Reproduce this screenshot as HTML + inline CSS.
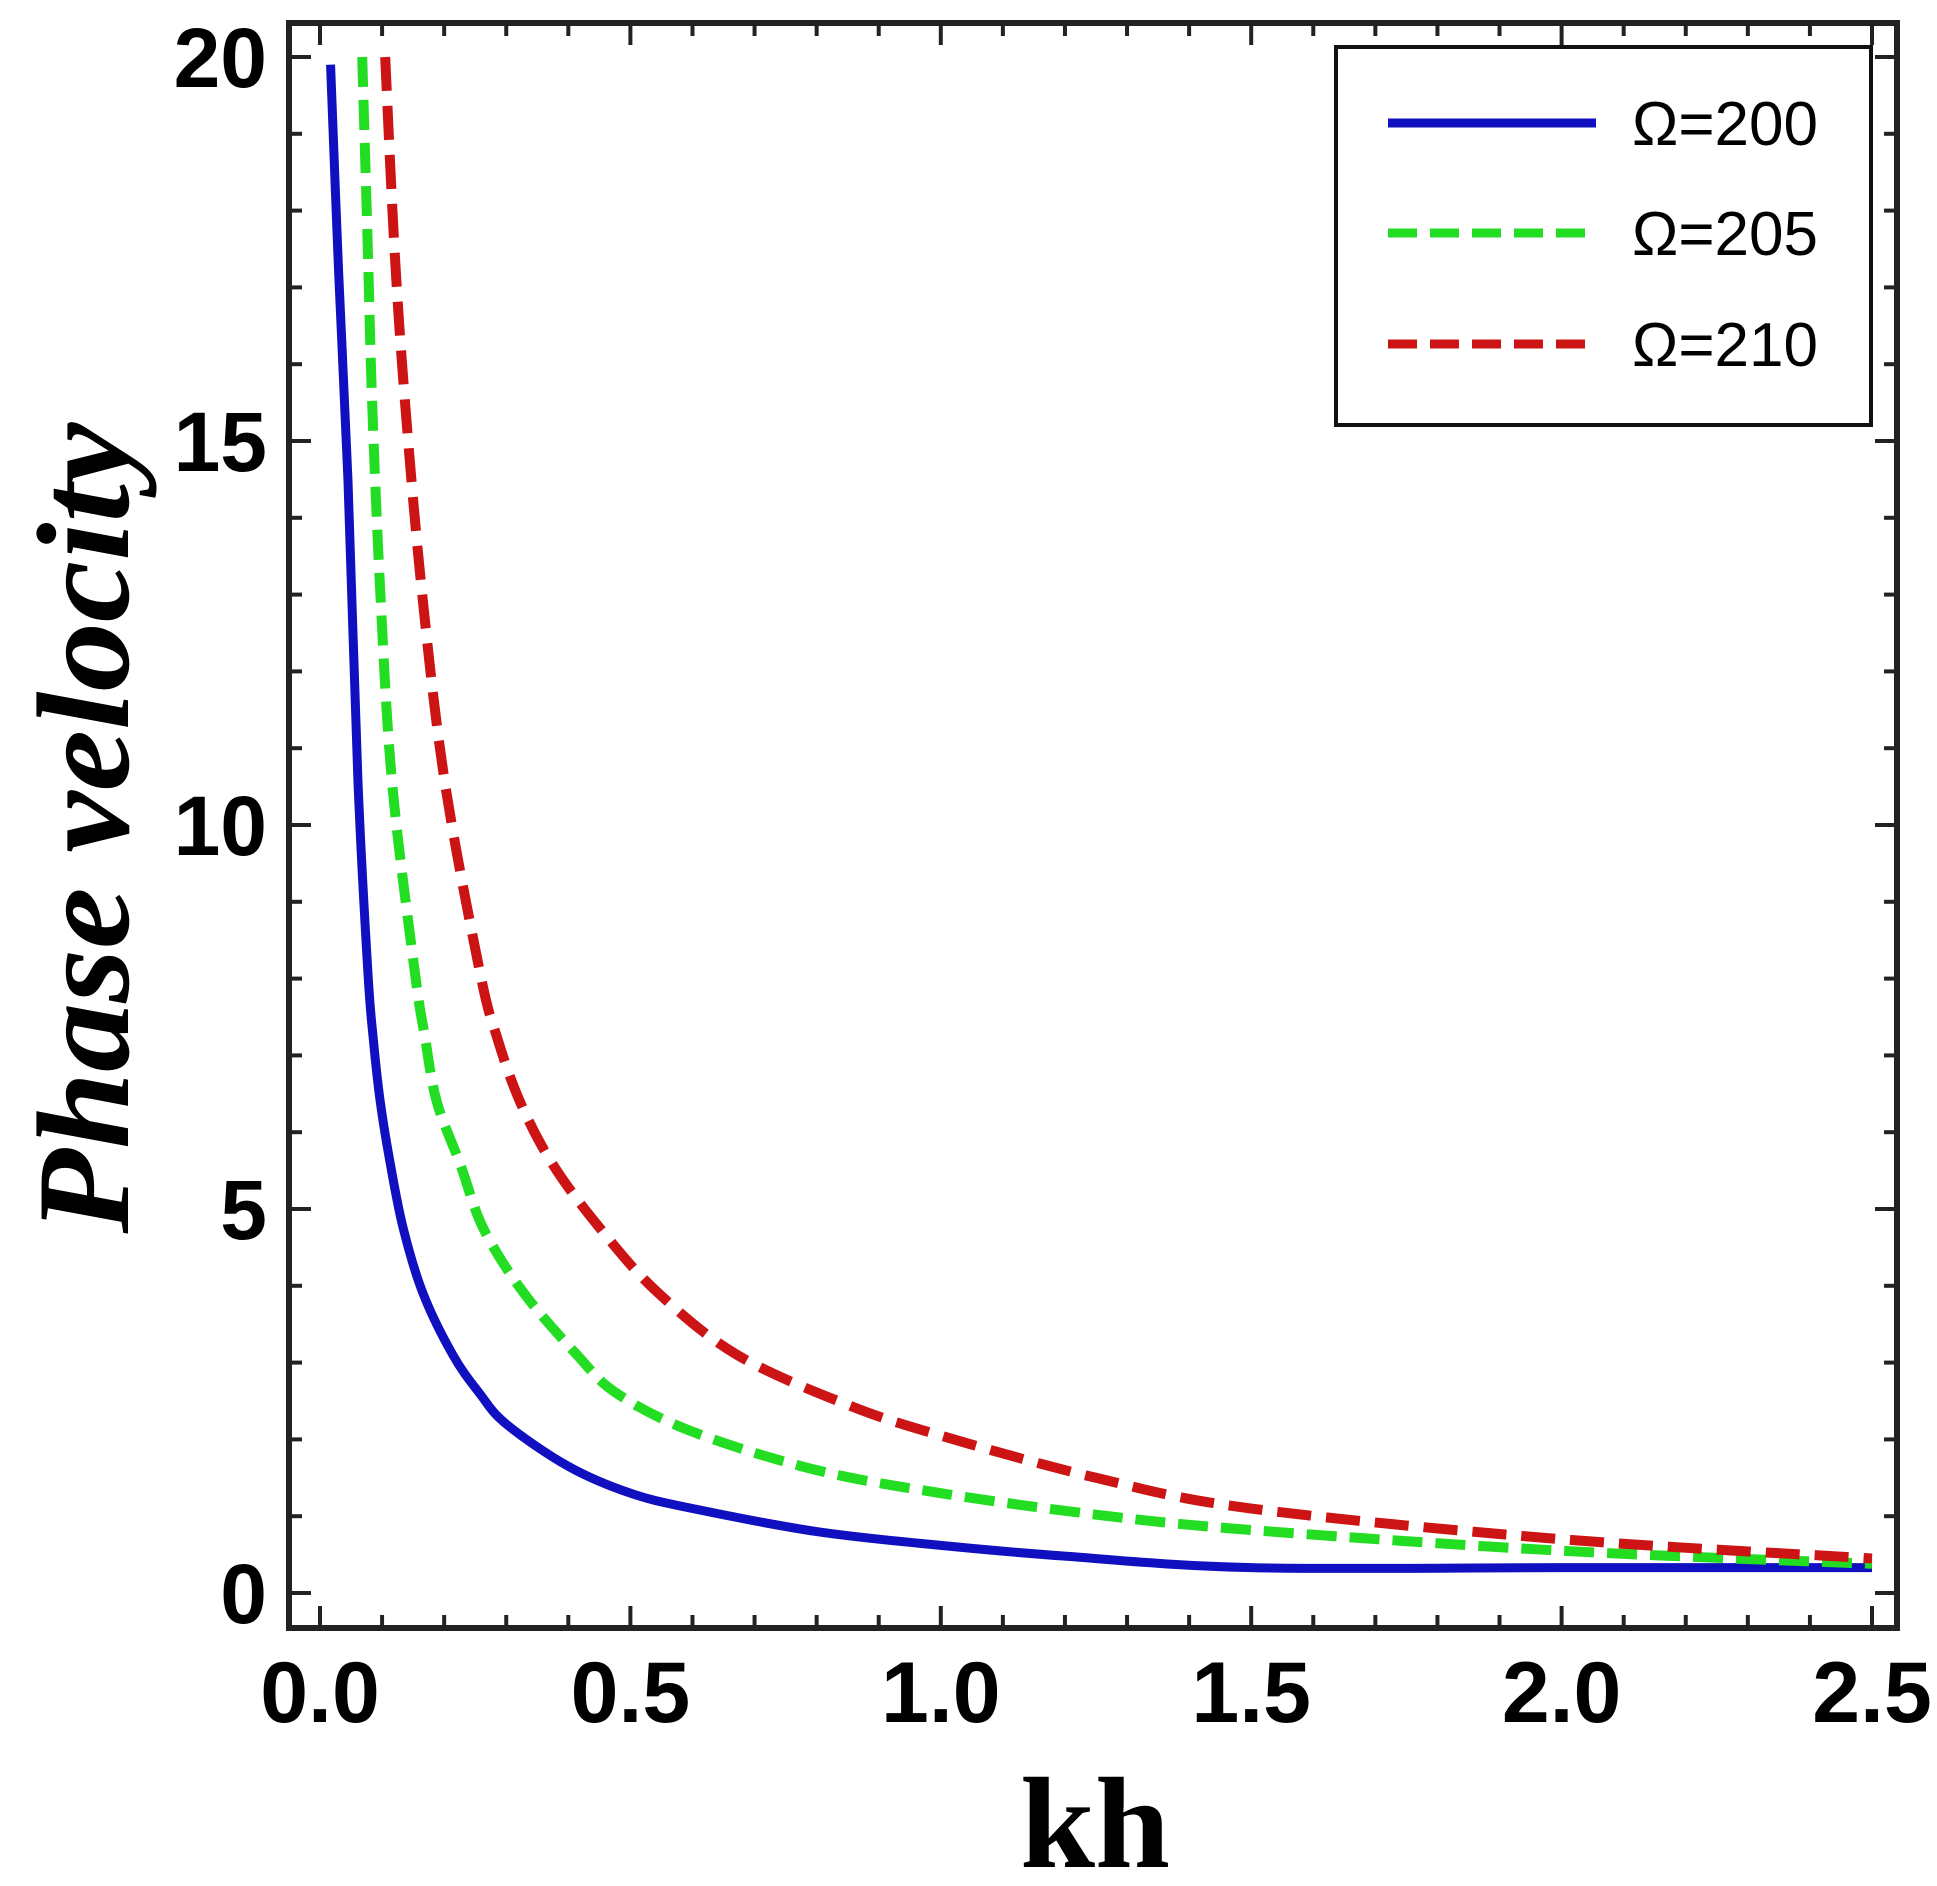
<!DOCTYPE html>
<html><head><meta charset="utf-8"><style>
html,body{margin:0;padding:0;background:#fff;}
svg{display:block;}
</style></head><body>
<svg id="chart" width="1937" height="1886" viewBox="0 0 1937 1886" xmlns="http://www.w3.org/2000/svg">
<rect x="0" y="0" width="1937" height="1886" fill="#fff"/>
<g id="series"></g>
<g id="axes"></g>
<rect x="289" y="23" width="1608" height="1605" fill="none" stroke="#222" stroke-width="6"/>
<g>
<rect x="1336" y="47" width="535" height="378" fill="#fff" stroke="#111" stroke-width="4"/>
<g id="legend-entries"></g>
</g>
<text transform="translate(128,828) rotate(-90)" text-anchor="middle" font-family="Liberation Serif, serif" font-weight="bold" font-style="italic" font-size="132" textLength="811" lengthAdjust="spacingAndGlyphs">Phase velocity</text>
<text x="1095" y="1867" text-anchor="middle" font-family="Liberation Serif, serif" font-weight="bold" font-size="130" textLength="150" lengthAdjust="spacingAndGlyphs">kh</text>
</svg>
<script>
const xTicks = [0.0, 0.5, 1.0, 1.5, 2.0, 2.5];
const xTickLabels = ["0.0", "0.5", "1.0", "1.5", "2.0", "2.5"];
const yTicks = [0, 5, 10, 15, 20];
const yTickLabels = ["0", "5", "10", "15", "20"];
const seriesNames = ["Ω=200", "Ω=205", "Ω=210"];
const khBlue = [0.017,0.03,0.045,0.061,0.077,0.086,0.097,0.113,0.134,0.166,0.214,0.257,0.3,0.4,0.5,0.6,0.8,1.0,1.2,1.5,2.0,2.5];
const vBlue  = [19.9,17.2,14.5,10.6,8.1,7.2,6.4,5.6,4.75,3.9,3.1,2.6,2.2,1.65,1.3,1.1,0.8,0.62,0.48,0.33,0.33,0.33];
const khGreen = [0.068,0.077,0.084,0.097,0.116,0.153,0.169,0.188,0.226,0.263,0.327,0.414,0.478,0.6,0.8,1.0,1.25,1.5,2.0,2.5];
const vGreen  = [20,17.5,15.5,13.05,10.56,8.07,7.24,6.4,5.58,4.75,3.92,3.1,2.6,2.1,1.6,1.3,1.02,0.82,0.55,0.38];
const khRed = [0.105,0.12,0.137,0.164,0.201,0.258,0.285,0.322,0.375,0.451,0.543,0.672,0.85,1.0,1.25,1.5,2.0,2.5];
const vRed  = [20,17.5,15.5,13.05,10.56,8.07,7.24,6.4,5.58,4.75,3.92,3.1,2.45,2.05,1.5,1.1,0.7,0.45];

const NS = "http://www.w3.org/2000/svg";
const X0 = 320, XPX = 620.8, Y0 = 1593, YPX = 76.8;
function sx(v){ return X0 + v * XPX; }
function sy(v){ return Y0 - v * YPX; }
function mk(tag, attrs, parent){
  const e = document.createElementNS(NS, tag);
  for (const k in attrs) e.setAttribute(k, attrs[k]);
  parent.appendChild(e);
  return e;
}
const axes = document.getElementById('axes');
for (let i = 0; i <= 25; i++) {
  const v = i / 10, major = i % 5 === 0, L = major ? 22 : 13, x = sx(v);
  const t1 = mk('line', {x1:x, x2:x, y1:1628, y2:1628 - L, stroke:'#222', 'stroke-width':4}, axes);
  
  
  const t2 = mk('line', {x1:x, x2:x, y1:23, y2:23 + L, stroke:'#222', 'stroke-width':4}, axes);
  
  
}
xTicks.forEach((v, i) => {
  const t = mk('text', {x:sx(v), y:1722, 'text-anchor':'middle', 'font-family':'Liberation Sans, sans-serif', 'font-weight':'bold', 'font-size':86}, axes);
  t.textContent = xTickLabels[i];
  
  
});
for (let v = 0; v <= 20; v++) {
  const major = v % 5 === 0, L = major ? 22 : 13, y = sy(v);
  const t1 = mk('line', {x1:289, x2:289 + L, y1:y, y2:y, stroke:'#222', 'stroke-width':4}, axes);
  
  
  const t2 = mk('line', {x1:1897, x2:1897 - L, y1:y, y2:y, stroke:'#222', 'stroke-width':4}, axes);
  
  
}
yTicks.forEach((v, i) => {
  const t = mk('text', {x:267, y:sy(v) + 30, 'text-anchor':'end', 'font-family':'Liberation Sans, sans-serif', 'font-weight':'bold', 'font-size':84}, axes);
  t.textContent = yTickLabels[i];
  
  
});
function pathFrom(xs, ys){
  const p = xs.map((x, i) => [sx(x), sy(ys[i])]);
  let d = 'M' + p[0][0] + ',' + p[0][1];
  for (let i = 0; i < p.length - 1; i++) {
    const a = p[Math.max(0, i - 1)], b = p[i], c = p[i + 1], e = p[Math.min(p.length - 1, i + 2)];
    const c1 = [b[0] + (c[0] - a[0]) / 6, b[1] + (c[1] - a[1]) / 6];
    const c2 = [c[0] - (e[0] - b[0]) / 6, c[1] - (e[1] - b[1]) / 6];
    d += ' C' + c1[0] + ',' + c1[1] + ' ' + c2[0] + ',' + c2[1] + ' ' + c[0] + ',' + c[1];
  }
  return d;
}
const sg = document.getElementById('series');
const pb = mk('path', {d:pathFrom(khBlue, vBlue), fill:'none', stroke:'#1010c0', 'stroke-width':9}, sg);


const pg = mk('path', {d:pathFrom(khGreen, vGreen), fill:'none', stroke:'#22dd22', 'stroke-width':10, 'stroke-dasharray':'30 13'}, sg);


const pr = mk('path', {d:pathFrom(khRed, vRed), fill:'none', stroke:'#cc1414', 'stroke-width':10, 'stroke-dasharray':'34 15'}, sg);


const lg = document.getElementById('legend-entries');
const lColors = ['#1010c0', '#22dd22', '#cc1414'];
const lDash = ['none', '29 13', '29 13'];
const lY = [123, 233, 344];
seriesNames.forEach((n, i) => {
  const g = mk('g', {}, lg);
  
  
  const l = mk('line', {x1:1388, x2:1596, y1:lY[i], y2:lY[i], stroke:lColors[i], 'stroke-width':9, 'stroke-dasharray':lDash[i]}, g);
  
  
  const t = mk('text', {x:1632, y:lY[i] + 22, 'font-family':'Liberation Sans, sans-serif', 'font-size':62}, g);
  t.textContent = n;
  
  
});
</script>
</body></html>
